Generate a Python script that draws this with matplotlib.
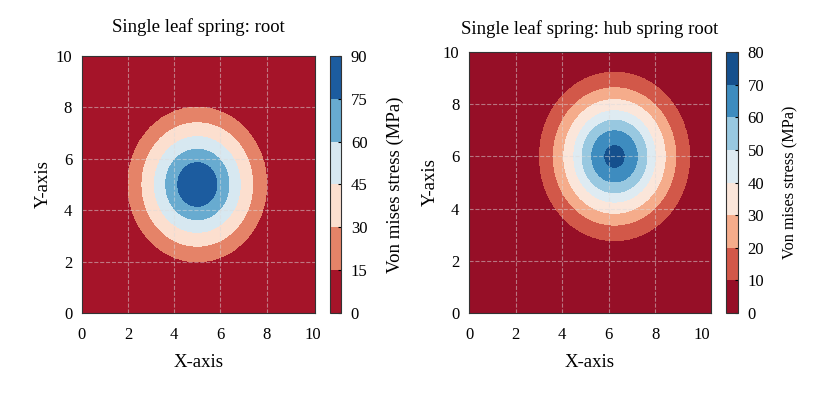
import matplotlib.pyplot as plt
import numpy as np

plt.rcParams['font.family'] = ['Liberation Serif', 'DejaVu Serif']

# Left panel: root
root_center = (5.0, 5.0)
root_radius = [0.0, 0.85, 1.37, 1.86, 2.40, 3.00, 8.0]   # ring radii
root_stress = [88.0, 75.0, 60.0, 45.0, 30.0, 15.0, 0.0]
root_levels = [0, 15, 30, 45, 60, 75, 90]

# Right panel: hub spring root
hub_center = (6.25, 6.0)
hub_radius = [0.0, 0.42, 0.98, 1.39, 1.75, 2.18, 2.63, 3.22, 8.0]
hub_stress = [72.5, 70.0, 60.0, 50.0, 40.0, 30.0, 20.0, 10.0, 0.0]
hub_levels = [0, 10, 20, 30, 40, 50, 60, 70, 80]

ticks = [0, 2, 4, 6, 8, 10]
grid_pos = [2, 4, 6, 8]


def stress_field(center, radius, stress, xmax):
    x = np.linspace(0, xmax, 400)
    y = np.linspace(0, 10, 400)
    X, Y = np.meshgrid(x, y)
    R = np.hypot(X - center[0], Y - center[1])
    return X, Y, np.interp(R, radius, stress)


def draw_panel(fig, ax_rect, cb_rect, center, radius, stress, levels, xmax,
               title, title_pad, cb_size, cb_pad):
    ax = fig.add_axes(ax_rect)
    cax = fig.add_axes(cb_rect)
    X, Y, Z = stress_field(center, radius, stress, xmax)
    cs = ax.contourf(X, Y, Z, levels=levels, cmap='RdBu')
    ax.set_xlim(0, xmax)
    ax.set_ylim(0, 10)
    ax.set_xticks(ticks)
    ax.set_yticks(ticks)
    ax.tick_params(axis='x', length=0, labelsize=12, pad=10)
    ax.tick_params(axis='y', length=0, labelsize=12, pad=7)
    # light dashed grid, inner lines only
    for g in grid_pos:
        ax.axvline(g, linestyle='--', color='#dcdcdc', linewidth=0.8, alpha=0.5, zorder=3)
        ax.axhline(g, linestyle='--', color='#dcdcdc', linewidth=0.8, alpha=0.5, zorder=3)
    for s in ax.spines.values():
        s.set_color('#333333')
        s.set_linewidth(0.8)
        s.set_zorder(5)
    ax.set_title(title, fontsize=13.5, pad=title_pad)
    ax.set_xlabel('X-axis', fontsize=13.5, labelpad=8)
    ax.set_ylabel('Y-axis', fontsize=13.5, labelpad=3)

    cb = fig.colorbar(cs, cax=cax, ticks=levels)
    cb.ax.tick_params(direction='in', length=2, width=0.8, labelsize=12, pad=7)
    cb.outline.set_edgecolor('#333333')
    cb.outline.set_linewidth(0.8)
    cb.set_label('Von mises stress (MPa)', fontsize=cb_size, labelpad=cb_pad)


fig = plt.figure(figsize=(8.23, 3.93), dpi=100)

draw_panel(fig, [0.0996, 0.2036, 0.2831, 0.654], [0.401, 0.2036, 0.0134, 0.654],
           root_center, root_radius, root_stress, root_levels, 10.1,
           'Single leaf spring: root', 17, 13.5, 14)
draw_panel(fig, [0.570, 0.2036, 0.294, 0.664], [0.882, 0.2036, 0.0146, 0.664],
           hub_center, hub_radius, hub_stress, hub_levels, 10.4,
           'Single leaf spring: hub spring root', 13, 11.7, 13)

fig.savefig('out.png', dpi=100)
